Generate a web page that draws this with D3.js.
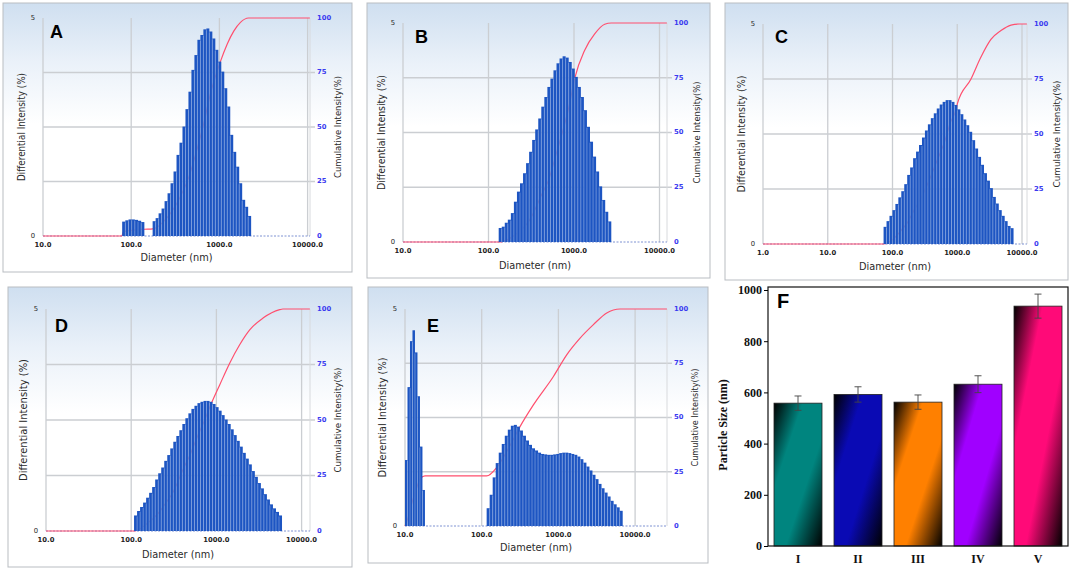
<!DOCTYPE html>
<html>
<head>
<meta charset="utf-8">
<script src="https://cdnjs.cloudflare.com/ajax/libs/d3/7.8.5/d3.min.js"></script>
<style>
  body { margin: 0; background: #fff; }
  svg { display: block; }
</style>
</head>
<body>
<script>
// ---- DLS histograms (differential intensity, %) ----
// each group: diameter range [from, to] (nm) and bin heights
const aRange1 = [79, 141]
const aHeights1 = [0.33, 0.36, 0.38, 0.38, 0.37, 0.35, 0.32]
const aRange2 = [175, 2290]
const aHeights2 = [0.34, 0.41, 0.52, 0.63, 0.80, 0.98, 1.21, 1.48, 1.86, 2.14, 2.51, 2.91, 3.31, 3.81, 4.15, 4.50, 4.61,
    4.74, 4.76, 4.69, 4.53, 4.27, 4.00, 3.77, 3.39, 2.97, 2.32, 1.93, 1.59, 1.21, 0.83, 0.67, 0.46]
const aCumD = [10, 78, 82, 141, 175, 250, 350, 450, 560, 650, 800, 1026, 1224, 1455, 1733, 2136, 10600]
const aCumP = [0, 0, 2, 3.1, 3.3, 8, 17, 27, 40, 50, 66, 80, 88, 94, 98, 100, 100]

const bRange = [131.6, 2730]
const bHeights = [0.32, 0.35, 0.44, 0.51, 0.66, 0.92, 1.15, 1.34, 1.57, 1.80, 2.06, 2.33, 2.57, 2.82, 3.09, 3.31, 3.54,
    3.73, 3.92, 4.08, 4.19, 4.24, 4.21, 4.11, 3.96, 3.77, 3.54, 3.31, 3.01, 2.63, 2.29, 1.95, 1.61, 1.27, 0.96, 0.69, 0.47]
const bCumD = [10, 131, 200, 302, 423, 501, 617, 881, 1019, 1334, 1746, 2285, 2730, 12200]
const bCumP = [0, 0, 3, 10, 22, 28, 40, 62.5, 74.7, 87.6, 95, 99.4, 100, 100]

const cRange = [72.8, 7404]
const cHeights = [0.39, 0.52, 0.64, 0.77, 0.91, 1.06, 1.20, 1.36, 1.57, 1.74, 1.95, 2.10, 2.25, 2.42, 2.58, 2.72, 2.86,
    2.97, 3.08, 3.17, 3.23, 3.27, 3.27, 3.23, 3.16, 3.06, 2.95, 2.83, 2.70, 2.55, 2.36, 2.17, 1.98, 1.80, 1.61, 1.44,
    1.27, 1.07, 0.92, 0.77, 0.64, 0.52, 0.41, 0.36]
const cCumD = [1, 72.8, 100, 138, 167, 217, 275, 369, 479, 646, 780, 955, 1011, 1629, 2323, 3312, 4728, 6760, 9080, 11900]
const cCumP = [0, 0, 2, 6.4, 9.4, 15.5, 20.8, 29, 37.4, 47, 55, 61, 64, 75, 85, 93, 97, 99.5, 100, 100]

const dRange = [108, 5890]
const dHeights = [0.35, 0.45, 0.54, 0.64, 0.75, 0.86, 0.99, 1.16, 1.30, 1.43, 1.58, 1.71, 1.86, 2.01, 2.14, 2.27, 2.41,
    2.54, 2.65, 2.75, 2.82, 2.88, 2.91, 2.93, 2.93, 2.91, 2.86, 2.79, 2.71, 2.61, 2.51, 2.41, 2.29, 2.16, 2.03, 1.90,
    1.76, 1.63, 1.50, 1.35, 1.22, 1.08, 0.96, 0.83, 0.71, 0.60, 0.51, 0.43, 0.35]
const dCumD = [10, 108, 150, 206, 259, 305, 416, 487, 598, 710, 873, 1093, 1432, 1875, 2459, 3524, 5534, 6030, 12500]
const dCumP = [0, 0, 3, 7.8, 13, 17, 28.6, 34, 42.5, 49, 57.5, 65.8, 75.6, 83.9, 90.6, 95.9, 99.7, 100, 100]

const eRange1 = [10, 18.2]
const eHeights1 = [1.52, 3.20, 4.26, 4.51, 4.00, 2.99, 1.83, 0.83]
const eRange2 = [116, 6890]
const eHeights2 = [0.41, 0.72, 1.12, 1.45, 1.69, 1.89, 2.08, 2.22, 2.31, 2.33, 2.29, 2.20, 2.08, 1.97, 1.87, 1.79, 1.74,
    1.69, 1.66, 1.65, 1.64, 1.64, 1.65, 1.66, 1.68, 1.69, 1.69, 1.68, 1.66, 1.64, 1.60, 1.54, 1.46, 1.37, 1.28, 1.18,
    1.08, 0.97, 0.87, 0.77, 0.68, 0.58, 0.50, 0.43, 0.35]
const eCumD = [10, 11, 12.4, 14, 16, 18.2, 116, 160, 230, 316, 472, 861, 1283, 1918, 2860, 4266, 6368, 26000]
const eCumP = [0, 4, 11, 17, 22, 23.1, 23.1, 27.4, 36.6, 45.8, 55.8, 68.9, 78.9, 86.6, 92.8, 98.2, 100, 100]

const decadeTicks = [10, 100, 1000, 10000]
const decadeTicksC = [1, 10, 100, 1000, 10000]
const rightTicks = [0, 25, 50, 75, 100]

// ---- panel F: mean particle size ----
const fCats = ['I', 'II', 'III', 'IV', 'V']
const fSizes = [558, 592, 562, 632, 937]
const fErrors = [28, 30, 28, 33, 47]
const fColors = ['#00857f', '#0a0ab4', '#ff8000', '#a000ff', '#ff0a78']
const fTicks = [0, 200, 400, 600, 800, 1000]

const svg = d3.select('body').append('svg')
    .attr('width', 1072)
    .attr('height', 571)
    .style('font-family', '"DejaVu Sans", Verdana, sans-serif')

const defs = svg.append('defs')
const bg = defs.append('linearGradient').attr('id', 'panelBg')
    .attr('x1', 0).attr('y1', 0).attr('x2', 0).attr('y2', 1)
bg.append('stop').attr('offset', 0).attr('stop-color', '#cfdff0')
bg.append('stop').attr('offset', 0.22).attr('stop-color', '#eaf1f9')
bg.append('stop').attr('offset', 0.45).attr('stop-color', '#ffffff')

function drawDls(L, groups, cumD, cumP, ticks) {
    const g = svg.append('g')

    // panel frame
    g.append('rect')
        .attr('x', L.frame[0]).attr('y', L.frame[1])
        .attr('width', L.frame[2]).attr('height', L.frame[3])
        .attr('fill', 'url(#panelBg)')
        .attr('stroke', '#b9bdc2')
        .attr('stroke-width', 1)

    const dmax = L.dmin * Math.pow(10, (L.pr - L.pl) / L.decade)
    const x = d3.scaleLog().domain([L.dmin, dmax]).range([L.pl, L.pr])
    const y = d3.scaleLinear().domain([0, 5]).range([L.pb, L.pt])
    const yc = d3.scaleLinear().domain([0, 100]).range([L.pb, L.pt])

    // grid
    g.selectAll(null).data(ticks).enter().append('line')
        .attr('x1', d => x(d)).attr('x2', d => x(d))
        .attr('y1', L.pt).attr('y2', L.pb)
        .attr('stroke', '#cbced2').attr('stroke-width', 1.3)
    g.selectAll(null).data([25, 50, 75]).enter().append('line')
        .attr('x1', L.pl).attr('x2', L.pr + 5)
        .attr('y1', d => yc(d)).attr('y2', d => yc(d))
        .attr('stroke', '#cbced2').attr('stroke-width', 1.3)
    g.append('line')
        .attr('x1', L.pr).attr('x2', L.pr).attr('y1', L.pt).attr('y2', L.pb)
        .attr('stroke', '#d8dadd').attr('stroke-width', 1)

    // baseline
    g.append('line')
        .attr('x1', L.pl).attr('x2', L.pr).attr('y1', L.pb).attr('y2', L.pb)
        .attr('stroke', '#7f92d2').attr('stroke-width', 1)
        .attr('stroke-dasharray', '2,1.5')

    // cumulative curve (sits under the bars)
    const line = d3.line()
        .x(d => x(d[0]))
        .y(d => yc(d[1]))
        .curve(d3.curveMonotoneX)
    g.append('path')
        .datum(d3.zip(cumD, cumP))
        .attr('d', line)
        .attr('fill', 'none')
        .attr('stroke', '#ff4f6e')
        .attr('stroke-width', 1.2)

    // histogram bars, log-spaced bins
    groups.forEach(gr => {
        const n = gr.h.length
        const lg = d3.scaleLinear().domain([0, n])
            .range([Math.log10(gr.range[0]), Math.log10(gr.range[1])])
        const edge = i => x(Math.pow(10, lg(i)))
        g.selectAll(null).data(gr.h).enter().append('rect')
            .attr('x', (d, i) => edge(i))
            .attr('width', (d, i) => edge(i + 1) - edge(i))
            .attr('y', d => y(d))
            .attr('height', d => y(0) - y(d))
            .attr('fill', '#1d55c2')
        // light separators between bins
        g.selectAll(null).data(gr.h.slice(1)).enter().append('line')
            .attr('x1', (d, i) => edge(i + 1)).attr('x2', (d, i) => edge(i + 1))
            .attr('y1', (d, i) => y(Math.min(d, gr.h[i])) + 1).attr('y2', y(0))
            .attr('stroke', '#a9c0ea').attr('stroke-width', 0.6).attr('stroke-opacity', 0.8)
    })

    // tick labels
    g.selectAll(null).data(ticks).enter().append('text')
        .attr('x', d => x(d)).attr('y', L.pb + 9)
        .attr('text-anchor', 'middle').attr('dominant-baseline', 'middle')
        .style('font-size', '6.8px').style('font-weight', 'bold').attr('fill', '#222')
        .text(d => d.toFixed(1))
    g.selectAll(null).data([0, 5]).enter().append('text')
        .attr('x', L.pl - 8).attr('y', d => y(d))
        .attr('text-anchor', 'end').attr('dominant-baseline', 'middle')
        .style('font-size', '6.8px').attr('fill', '#222')
        .text(d => d)
    g.selectAll(null).data(rightTicks).enter().append('text')
        .attr('x', L.pr + 7).attr('y', d => yc(d))
        .attr('dominant-baseline', 'middle')
        .style('font-size', '6.8px').style('font-weight', 'bold').attr('fill', '#3a3af0')
        .text(d => d)

    // titles
    const midY = (L.pt + L.pb) / 2
    g.append('text')
        .attr('transform', `translate(${L.leftTitleX},${midY}) rotate(-90)`)
        .attr('text-anchor', 'middle').attr('dominant-baseline', 'middle')
        .attr('textLength', L.leftLen).attr('lengthAdjust', 'spacingAndGlyphs')
        .style('font-size', '10px').attr('fill', '#2a2a2a')
        .text('Differential Intensity (%)')
    g.append('text')
        .attr('transform', `translate(${L.rightTitleX},${midY}) rotate(-90)`)
        .attr('text-anchor', 'middle').attr('dominant-baseline', 'middle')
        .attr('textLength', L.rightLen).attr('lengthAdjust', 'spacingAndGlyphs')
        .style('font-size', '9.5px').attr('fill', '#2a2a2a')
        .text('Cumulative Intensity(%)')
    g.append('text')
        .attr('x', (L.pl + L.pr) / 2).attr('y', L.diamY)
        .attr('text-anchor', 'middle').attr('dominant-baseline', 'middle')
        .attr('textLength', 72).attr('lengthAdjust', 'spacingAndGlyphs')
        .style('font-size', '10.5px').attr('fill', '#2a2a2a')
        .text('Diameter (nm)')

    // panel letter
    g.append('text')
        .attr('x', L.lx).attr('y', L.ly)
        .style('font-family', '"Liberation Sans", Arial, sans-serif')
        .style('font-size', '18px').style('font-weight', 'bold').attr('fill', '#000')
        .text(L.letter)
}

drawDls({frame: [3, 3, 349, 269], pl: 43, pr: 310, pt: 18, pb: 236, dmin: 10, decade: 88.2,
        letter: 'A', lx: 50, ly: 38, leftTitleX: 22, rightTitleX: 338, diamY: 258, leftLen: 108, rightLen: 102},
    [{range: aRange1, h: aHeights1}, {range: aRange2, h: aHeights2}], aCumD, aCumP, decadeTicks)

drawDls({frame: [367, 3, 343, 275], pl: 403, pr: 667, pt: 23, pb: 242, dmin: 10, decade: 85.5,
        letter: 'B', lx: 415, ly: 43, leftTitleX: 382, rightTitleX: 697, diamY: 266, leftLen: 115, rightLen: 102},
    [{range: bRange, h: bHeights}], bCumD, bCumP, decadeTicks)

drawDls({frame: [725, 3, 343, 277], pl: 763, pr: 1027, pt: 24, pb: 244, dmin: 1, decade: 64.75,
        letter: 'C', lx: 775, ly: 43, leftTitleX: 742, rightTitleX: 1057, diamY: 267, leftLen: 117, rightLen: 107},
    [{range: cRange, h: cHeights}], cCumD, cCumP, decadeTicksC)

drawDls({frame: [8, 287, 344, 280], pl: 46, pr: 310, pt: 309, pb: 531, dmin: 10, decade: 85.2,
        letter: 'D', lx: 55, ly: 332, leftTitleX: 24, rightTitleX: 338, diamY: 555, leftLen: 122, rightLen: 105},
    [{range: dRange, h: dHeights}], dCumD, dCumP, decadeTicks)

drawDls({frame: [368, 287, 340, 276], pl: 405, pr: 667, pt: 309, pb: 526, dmin: 10, decade: 76.7,
        letter: 'E', lx: 427, ly: 332, leftTitleX: 383, rightTitleX: 695, diamY: 548, leftLen: 120, rightLen: 98},
    [{range: eRange1, h: eHeights1}, {range: eRange2, h: eHeights2}], eCumD, eCumP, decadeTicks)

// ---- panel F ----
const fx = d3.scaleBand().domain(fCats).range([768, 1068]).paddingInner(0.2).paddingOuter(0.1)
const fy = d3.scaleLinear().domain([0, 1000]).range([546, 290])
const fg = svg.append('g')
const serif = '"Liberation Serif", "Times New Roman", serif'

fColors.forEach((c, i) => {
    const gr = defs.append('linearGradient').attr('id', 'fbar' + i)
        .attr('x1', 0).attr('y1', 0).attr('x2', 1).attr('y2', 1)
    gr.append('stop').attr('offset', 0).attr('stop-color', '#000')
    gr.append('stop').attr('offset', 0.3).attr('stop-color', c)
    gr.append('stop').attr('offset', 0.62).attr('stop-color', c)
    gr.append('stop').attr('offset', 1).attr('stop-color', '#000')
})

fg.selectAll('.fbar').data(fSizes).enter().append('rect')
    .attr('class', 'fbar')
    .attr('x', (d, i) => fx(fCats[i]))
    .attr('width', fx.bandwidth())
    .attr('y', d => fy(d))
    .attr('height', d => fy(0) - fy(d))
    .attr('fill', (d, i) => `url(#fbar${i})`)
    .attr('stroke', '#222').attr('stroke-width', 0.8)

const cx = i => fx(fCats[i]) + fx.bandwidth() / 2
const errG = fg.selectAll('.err').data(fSizes).enter().append('g').attr('class', 'err')
    .attr('stroke', '#444').attr('stroke-width', 0.9)
errG.append('line')
    .attr('x1', (d, i) => cx(i)).attr('x2', (d, i) => cx(i))
    .attr('y1', (d, i) => fy(d - fErrors[i])).attr('y2', (d, i) => fy(d + fErrors[i]))
errG.append('line')
    .attr('x1', (d, i) => cx(i) - 3.5).attr('x2', (d, i) => cx(i) + 3.5)
    .attr('y1', (d, i) => fy(d + fErrors[i])).attr('y2', (d, i) => fy(d + fErrors[i]))
errG.append('line')
    .attr('x1', (d, i) => cx(i) - 3.5).attr('x2', (d, i) => cx(i) + 3.5)
    .attr('y1', (d, i) => fy(d - fErrors[i])).attr('y2', (d, i) => fy(d - fErrors[i]))

// frame box
fg.append('rect')
    .attr('x', 768).attr('y', 287).attr('width', 300).attr('height', 259)
    .attr('fill', 'none').attr('stroke', '#111').attr('stroke-width', 1.2)

const fyAxis = fg.append('g').attr('transform', 'translate(768,0)')
    .call(d3.axisLeft(fy).tickValues(fTicks).tickFormat(d3.format('d')).tickSize(4).tickPadding(2))
fyAxis.select('.domain').remove()
fyAxis.selectAll('text')
    .style('font-family', serif)
    .style('font-size', '12px').style('font-weight', 'bold').attr('fill', '#111')

const fxAxis = fg.append('g').attr('transform', 'translate(0,546)')
    .call(d3.axisBottom(fx).tickSize(0).tickPadding(8))
fxAxis.select('.domain').remove()
fxAxis.selectAll('text')
    .style('font-family', serif)
    .style('font-size', '12px').style('font-weight', 'bold').attr('fill', '#111')

fg.append('text')
    .attr('transform', 'translate(724,425) rotate(-90)')
    .attr('text-anchor', 'middle').attr('dominant-baseline', 'middle')
    .style('font-family', serif)
    .style('font-size', '12px').style('font-weight', 'bold').attr('fill', '#111')
    .text('Particle Size (nm)')

fg.append('text')
    .attr('x', 777).attr('y', 308)
    .style('font-family', '"Liberation Sans", Arial, sans-serif')
    .style('font-size', '20px').style('font-weight', 'bold').attr('fill', '#000')
    .text('F')
</script>
</body>
</html>
